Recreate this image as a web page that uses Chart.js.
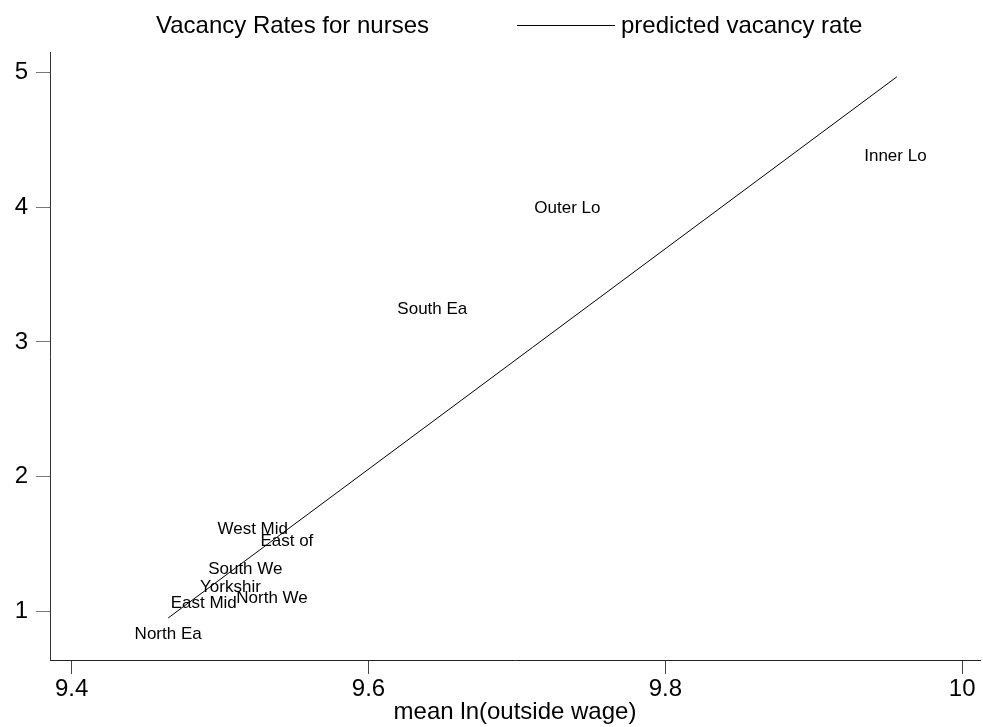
<!DOCTYPE html>
<html lang="en">
<head>
  <meta charset="UTF-8">
  <title>Vacancy Rates for nurses</title>
  <script src="https://cdn.jsdelivr.net/npm/chart.js"></script>
  <style>
    body {
      margin: 0;
      background: #ffffff;
    }
    .chart-container {
      width: 983px;
      height: 727px;
      position: relative;
    }
  </style>
</head>
<body>
  <div class="chart-container">
    <canvas id="vacancyChart"></canvas>
  </div>

  <script>
    // Regions (marker labels) and their values
    const regions = ['North Ea', 'East Mid', 'North We', 'Yorkshir', 'South We',
                     'East of', 'West Mid', 'South Ea', 'Outer Lo', 'Inner Lo'];
    const outsideWage = [9.465, 9.489, 9.535, 9.507, 9.517, 9.545, 9.522, 9.643, 9.734, 9.955];
    const vacancyRate = [0.826, 1.054, 1.097, 1.177, 1.311, 1.519, 1.604, 3.244, 3.994, 4.377];

    // Predicted vacancy rate line (end points)
    const predWage = [9.465, 9.956];
    const predRate = [0.948, 4.970];

    const xTicks = [9.4, 9.6, 9.8, 10];
    const yTicks = [1, 2, 3, 4, 5];

    const seriesNames = ['Vacancy Rates for nurses', 'predicted vacancy rate'];

    Chart.defaults.font.family = "'Liberation Sans', Arial, sans-serif";
    Chart.defaults.color = '#000';

    // Draw region names at the points (markers are invisible)
    const markerLabels = {
      id: 'markerLabels',
      afterDatasetsDraw(chart) {
        const ctx = chart.ctx;
        const meta = chart.getDatasetMeta(0);
        ctx.save();
        ctx.font = "17px 'Liberation Sans', Arial, sans-serif";
        ctx.fillStyle = '#000';
        ctx.textAlign = 'center';
        ctx.textBaseline = 'middle';
        meta.data.forEach((pt, i) => {
          ctx.fillText(regions[i], pt.x, pt.y);
        });
        ctx.restore();
      }
    };

    // Stata-like legend across the top
    const topLegend = {
      id: 'topLegend',
      afterDraw(chart) {
        const ctx = chart.ctx;
        ctx.save();
        ctx.font = "24px 'Liberation Sans', Arial, sans-serif";
        ctx.fillStyle = '#000';
        ctx.textBaseline = 'alphabetic';
        ctx.fillText(seriesNames[0], 156, 33);
        ctx.strokeStyle = '#000';
        ctx.lineWidth = 1;
        ctx.beginPath();
        ctx.moveTo(517, 25.5);
        ctx.lineTo(615, 25.5);
        ctx.stroke();
        ctx.fillText(seriesNames[1], 621, 33);
        ctx.restore();
      }
    };

    new Chart(document.getElementById('vacancyChart'), {
      type: 'scatter',
      data: {
        datasets: [{
          label: seriesNames[0],
          data: outsideWage.map((x, i) => ({ x: x, y: vacancyRate[i] })),
          pointRadius: 0,
          pointHoverRadius: 0
        }, {
          label: seriesNames[1],
          data: predWage.map((x, i) => ({ x: x, y: predRate[i] })),
          showLine: true,
          borderColor: '#000',
          borderWidth: 1,
          pointRadius: 0,
          pointHoverRadius: 0
        }]
      },
      options: {
        responsive: true,
        maintainAspectRatio: false,
        animation: false,
        events: [],
        layout: {
          padding: { top: 52.7, right: 3, left: 0, bottom: 0 }
        },
        plugins: {
          legend: { display: false },
          tooltip: { enabled: false }
        },
        scales: {
          x: {
            type: 'linear',
            min: 9.3854,
            max: 10.012,
            afterBuildTicks: (scale) => { scale.ticks = xTicks.map(v => ({ value: v })); },
            afterFit: (scale) => { scale.height = 67; },
            grid: { drawOnChartArea: false, drawTicks: true, tickLength: 14, color: '#444' },
            border: { display: true, color: '#222', width: 1 },
            ticks: {
              font: { size: 24, lineHeight: 1 },
              padding: 3,
              maxRotation: 0,
              callback: (v) => String(v)
            },
            title: {
              display: true,
              text: 'mean ln(outside wage)',
              font: { size: 24, lineHeight: 1 },
              padding: { top: 0, bottom: 3 }
            }
          },
          y: {
            type: 'linear',
            min: 0.636,
            max: 5.149,
            afterBuildTicks: (scale) => { scale.ticks = yTicks.map(v => ({ value: v })); },
            afterFit: (scale) => { scale.width = 50; },
            grid: { drawOnChartArea: false, drawTicks: true, tickLength: 14, color: '#777' },
            border: { display: true, color: '#333', width: 1 },
            ticks: {
              font: { size: 24, lineHeight: 1 },
              padding: 8,
              callback: (v) => String(v)
            }
          }
        }
      },
      plugins: [markerLabels, topLegend]
    });
  </script>
</body>
</html>
